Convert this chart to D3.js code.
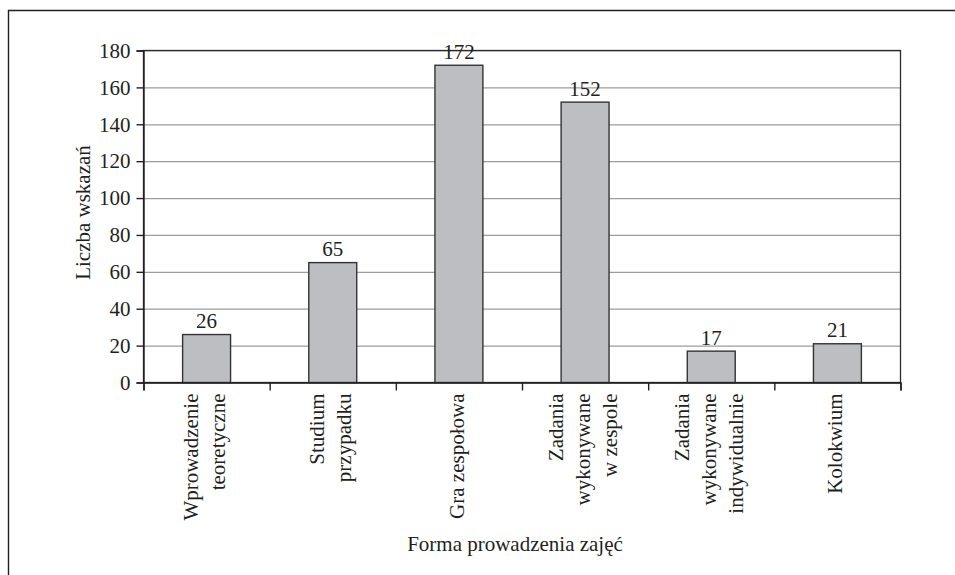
<!DOCTYPE html>
<html>
<head>
<meta charset="utf-8">
<script src="https://cdn.jsdelivr.net/npm/d3@7/dist/d3.min.js"></script>
<style>
  html, body { margin: 0; padding: 0; background: #fff; }
  svg { display: block; }
  text { font-family: "Liberation Serif", "Times New Roman", serif; fill: #231f20; }
</style>
</head>
<body>
<svg id="chart" width="955" height="575"></svg>
<script>
// Forms of classes and number of indications
const categories = [
  "Wprowadzenie\nteoretyczne",
  "Studium\nprzypadku",
  "Gra zespołowa",
  "Zadania\nwykonywane\nw zespole",
  "Zadania\nwykonywane\nindywidualnie",
  "Kolokwium"
];
const values = [26, 65, 172, 152, 17, 21];
const yTicks = [0, 20, 40, 60, 80, 100, 120, 140, 160, 180];
const xTitle = "Forma prowadzenia zajęć";
const yTitle = "Liczba wskazań";

const svg = d3.select("#chart");
const plot = { left: 143.5, right: 900.5, top: 50.5, bottom: 382.5 };
const fontSize = 21;

// outer frame (runs off the right and bottom edges)
svg.append("path")
  .attr("d", "M8.5,575 V10.5 H955")
  .attr("fill", "none")
  .attr("stroke", "#231f20")
  .attr("stroke-width", 1.4);

const x = d3.scaleBand().domain(categories).range([plot.left, plot.right]).padding(0);
const xEdge = d3.scaleLinear().domain([0, categories.length]).range([plot.left, plot.right]);
const y = d3.scaleLinear().domain([0, 180]).range([plot.bottom, plot.top]);

// horizontal gridlines
svg.append("g")
  .attr("transform", `translate(${plot.left},0)`)
  .call(d3.axisLeft(y).tickValues(yTicks).tickSize(-(plot.right - plot.left)).tickFormat(""))
  .call(g => g.select(".domain").remove())
  .call(g => g.selectAll("line").attr("stroke", "#9d9d9d").attr("stroke-width", 1.2));

// plot area border
svg.append("rect")
  .attr("x", plot.left).attr("y", plot.top)
  .attr("width", plot.right - plot.left).attr("height", plot.bottom - plot.top)
  .attr("fill", "none")
  .attr("stroke", "#2b2b2b")
  .attr("stroke-width", 1.3);

// bars
const barFrac = 0.38;
svg.append("g").selectAll("rect")
  .data(values)
  .join("rect")
  .attr("x", (d, i) => x(categories[i]) + x.bandwidth() * (1 - barFrac) / 2)
  .attr("width", x.bandwidth() * barFrac)
  .attr("y", d => y(d))
  .attr("height", d => y(0) - y(d))
  .attr("fill", "#bdbec2")
  .attr("stroke", "#333")
  .attr("stroke-width", 1.4);

// value labels
svg.append("g").selectAll("text")
  .data(values)
  .join("text")
  .attr("x", (d, i) => x(categories[i]) + x.bandwidth() / 2)
  .attr("y", d => y(d) - 6.5)
  .attr("text-anchor", "middle")
  .attr("font-size", fontSize)
  .text(d => d);

// y axis
svg.append("g")
  .attr("transform", `translate(${plot.left},0)`)
  .call(d3.axisLeft(y).tickValues(yTicks).tickSize(7).tickPadding(6))
  .call(g => g.select(".domain").attr("stroke", "#231f20").attr("stroke-width", 1.4))
  .call(g => g.selectAll("line").attr("stroke", "#231f20").attr("stroke-width", 1.4))
  .call(g => g.selectAll("text")
    .attr("font-size", fontSize)
    .attr("font-family", "Liberation Serif, serif")
    .attr("fill", "#231f20"));

// x axis: ticks sit on the category boundaries
svg.append("g")
  .attr("transform", `translate(0,${plot.bottom})`)
  .call(d3.axisBottom(xEdge).tickValues(d3.range(categories.length + 1)).tickSize(8).tickFormat(""))
  .call(g => g.select(".domain").attr("stroke", "#231f20").attr("stroke-width", 1.4))
  .call(g => g.selectAll("line").attr("stroke", "#231f20").attr("stroke-width", 1.4));

// rotated, multi-line category labels
const lineGap = 27;
const catLabels = svg.append("g").selectAll("text")
  .data(categories)
  .join("text")
  .attr("text-anchor", "end")
  .attr("font-size", fontSize)
  .attr("transform", d => `translate(${x(d) + x.bandwidth() / 2},${plot.bottom + 11}) rotate(-90)`);
catLabels.each(function (d) {
  const lines = d.split("\n");
  const n = lines.length;
  d3.select(this).selectAll("tspan")
    .data(lines)
    .join("tspan")
    .attr("x", 0)
    .attr("y", (l, i) => (i - (n - 1) / 2) * lineGap + 5)
    .text(l => l);
});

// axis titles
svg.append("text")
  .attr("x", 515)
  .attr("y", 551)
  .attr("text-anchor", "middle")
  .attr("font-size", fontSize)
  .text(xTitle);

svg.append("text")
  .attr("transform", `translate(90,${(plot.top + plot.bottom) / 2 - 4}) rotate(-90)`)
  .attr("text-anchor", "middle")
  .attr("font-size", fontSize)
  .text(yTitle);
</script>
</body>
</html>
